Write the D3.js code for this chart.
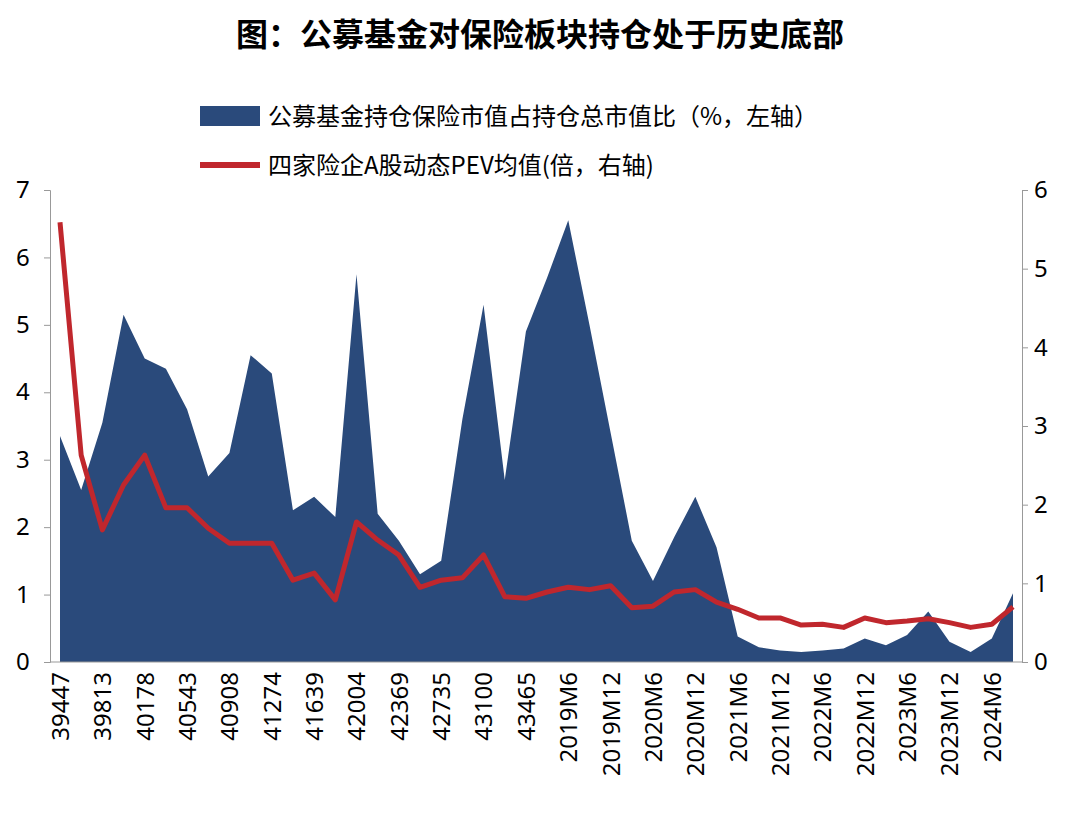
<!DOCTYPE html>
<html><head><meta charset="utf-8">
<script src="https://cdn.jsdelivr.net/npm/d3@7"></script>
<style>body{margin:0;background:#fff;font-family:"Noto Sans CJK SC","Noto Sans",sans-serif}</style>
</head><body><svg id="c" width="1080" height="821"></svg>
<script>
// Data
var categories = ["39447","39629","39813","39994","40178","40359","40543","40724","40908","41090","41274","41455","41639","41820","42004","42185","42369","42551","42735","42916","43100","43281","43465",
  "2019M3","2019M6","2019M9","2019M12","2020M3","2020M6","2020M9","2020M12","2021M3","2021M6","2021M9","2021M12","2022M3","2022M6","2022M9","2022M12","2023M3","2023M6","2023M9","2023M12","2024M3","2024M6","2024M9"];
var holdShare = [3.35,2.55,3.55,5.15,4.5,4.35,3.75,2.75,3.1,4.55,4.28,2.25,2.45,2.15,5.75,2.2,1.8,1.3,1.5,3.6,5.3,2.7,4.9,5.7,6.55,5.0,3.4,1.8,1.2,1.85,2.45,1.7,0.38,0.22,0.17,0.15,0.17,0.2,0.35,0.25,0.4,0.75,0.3,0.15,0.35,1.02];
var pev = [5.59,2.63,1.68,2.25,2.63,1.96,1.96,1.7,1.51,1.51,1.51,1.04,1.13,0.79,1.78,1.55,1.36,0.95,1.04,1.07,1.36,0.83,0.81,0.89,0.95,0.92,0.97,0.69,0.71,0.89,0.92,0.76,0.67,0.56,0.56,0.47,0.48,0.44,0.56,0.5,0.52,0.55,0.5,0.44,0.48,0.7];
var leftTicks = [0,1,2,3,4,5,6,7];
var rightTicks = [0,1,2,3,4,5,6];

var svg = d3.select("#c");
var L = 50, R = 1022, T = 190, B = 662;
var x = d3.scalePoint().domain(categories).range([60, 1013]);
var yL = d3.scaleLinear().domain([0, 7]).range([B, T]);
var yR = d3.scaleLinear().domain([0, 6]).range([B, T]);

// Title
svg.append("text").attr("x", 540).attr("y", 46).attr("text-anchor", "middle")
  .attr("font-size", 32).attr("font-weight", "bold").text("图：公募基金对保险板块持仓处于历史底部");

// Legend
svg.append("rect").attr("x", 200).attr("y", 106).attr("width", 60).attr("height", 20).attr("fill", "#2a4a7b");
svg.append("text").attr("x", 268).attr("y", 125).attr("font-size", 24).text("公募基金持仓保险市值占持仓总市值比（%，左轴）");
svg.append("line").attr("x1", 200).attr("x2", 260).attr("y1", 165).attr("y2", 165).attr("stroke", "#c0272d").attr("stroke-width", 6);
svg.append("text").attr("x", 268).attr("y", 174).attr("font-size", 24).text("四家险企A股动态PEV均值(倍，右轴)");

// Area
svg.append("path").datum(holdShare)
  .attr("fill", "#2a4a7b")
  .attr("d", d3.area().x(function(d, i) { return x(categories[i]); }).y0(B).y1(function(d) { return yL(d); }));

// Line
svg.append("path").datum(pev)
  .attr("fill", "none").attr("stroke", "#c0272d").attr("stroke-width", 5).attr("stroke-linejoin", "round")
  .attr("d", d3.line().x(function(d, i) { return x(categories[i]); }).y(function(d) { return yR(d); }));

// Axes
var gl = svg.append("g").attr("transform", "translate(" + L + ",0)")
  .call(d3.axisLeft(yL).tickValues(leftTicks).tickSize(6).tickFormat(d3.format("d")));
var gr = svg.append("g").attr("transform", "translate(" + R + ",0)")
  .call(d3.axisRight(yR).tickValues(rightTicks).tickSize(6).tickFormat(d3.format("d")));
var gx = svg.append("g").attr("transform", "translate(0," + B + ")")
  .call(d3.axisBottom(x).tickSize(0).tickValues(categories.filter(function(d, i) { return i % 2 === 0; })));
gx.select(".domain").attr("d", "M" + L + ",0H" + R);
[gl, gr, gx].forEach(function(g) {
  g.selectAll(".domain, .tick line").attr("stroke", "#999");
  g.selectAll("text").attr("font-size", 24).attr("fill", "#000")
    .attr("font-family", "'Noto Sans','Noto Sans CJK SC',sans-serif");
});
gl.selectAll("text").attr("x", -34).attr("text-anchor", "start");
gr.selectAll("text").attr("x", 12);
gx.selectAll("text").attr("transform", "rotate(-90)").attr("text-anchor", "end")
  .attr("x", -10).attr("y", 0).attr("dy", "0.35em");
</script></body></html>
